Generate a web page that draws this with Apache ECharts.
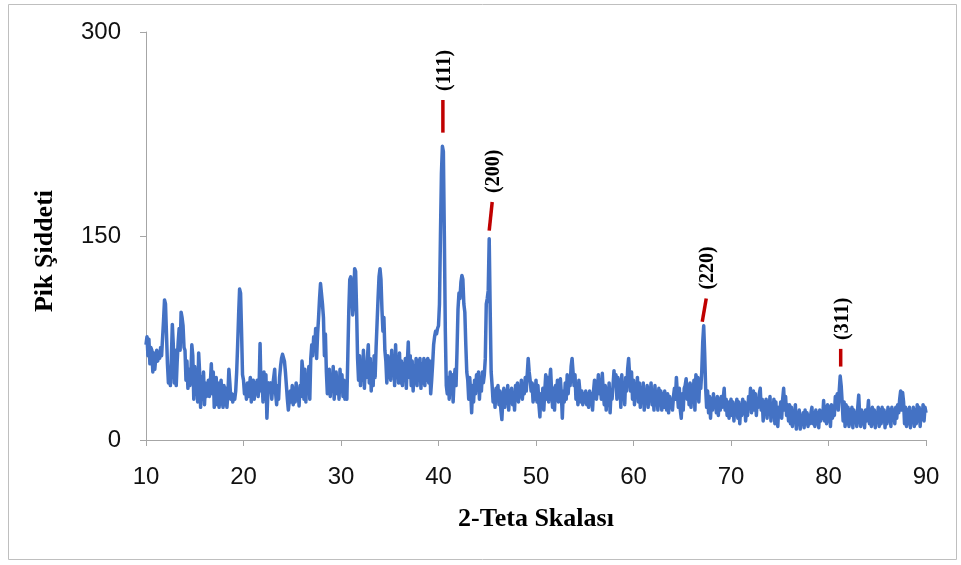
<!DOCTYPE html>
<html>
<head>
<meta charset="utf-8">
<title>XRD</title>
<script src="https://cdn.jsdelivr.net/npm/echarts@6/dist/echarts.min.js"></script>
<style>
  html, body { margin: 0; padding: 0; background: #fff; }
  #chart { width: 961px; height: 565px; }
</style>
</head>
<body>
<div id="chart"></div>
<script>
// 2-theta scan, one reading every 0.1 degree, grouped by decade
const scanStart = 10;
const scanStep = 0.1;

const intensity10s = [
  70, 76, 62, 74, 56, 68, 66, 50, 64, 52,
  60, 66, 58, 64, 60, 68, 62, 75, 88, 103,
  100, 78, 56, 42, 50, 40, 60, 85, 70, 42,
  66, 40, 58, 72, 82, 66, 94, 90, 84, 68,
  66, 44, 58, 38, 52, 40, 48, 70, 62, 30,
  54, 34, 46, 28, 64, 50, 24, 46, 30, 50,
  26, 42, 32, 36, 44, 32, 42, 56, 34, 50,
  24, 40, 46, 26, 42, 24, 38, 44, 30, 24,
  40, 26, 38, 24, 34, 52, 42, 30, 34, 28,
  33, 30, 36, 50, 70, 92, 111, 108, 80, 48
];
const intensity20s = [
  44, 34, 40, 30, 42, 32, 38, 46, 28, 40,
  44, 30, 42, 34, 44, 32, 40, 71, 36, 46,
  28, 50, 32, 48, 16, 34, 42, 36, 42, 30,
  40, 46, 52, 34, 26, 40, 30, 46, 54, 60,
  63, 62, 58, 50, 40, 30, 22, 21, 36, 28,
  40, 26, 38, 28, 42, 30, 36, 25, 40, 32,
  58, 50, 30, 52, 28, 48, 36, 54, 30, 60,
  70, 62, 76, 66, 82, 60, 78, 90, 104, 115,
  114, 100, 90, 62, 78, 50, 34, 46, 52, 32,
  48, 36, 54, 30, 44, 50, 34, 46, 30, 52
];
const intensity30s = [
  38, 48, 32, 44, 30, 36, 30, 62, 95, 118,
  120, 110, 92, 100, 126, 124, 96, 60, 44, 62,
  40, 58, 44, 66, 38, 56, 46, 60, 70, 42,
  60, 36, 56, 40, 62, 46, 68, 86, 104, 120,
  126, 118, 96, 80, 90, 66, 58, 42, 62, 46,
  60, 44, 66, 48, 62, 40, 70, 46, 58, 42,
  64, 42, 58, 40, 56, 44, 60, 38, 56, 72,
  46, 62, 40, 58, 36, 54, 42, 60, 40, 58,
  44, 60, 38, 56, 42, 60, 40, 58, 44, 60,
  42, 58, 34, 44, 56, 70, 76, 80, 78, 82
];
const intensity40s = [
  84, 100, 150, 196, 216, 212, 150, 80, 40, 34,
  46, 30, 50, 36, 48, 28, 44, 52, 40, 66,
  96, 108, 104, 116, 121, 118, 100, 94, 70, 50,
  44, 30, 46, 36, 20, 40, 28, 44, 34, 48,
  38, 50, 30, 46, 36, 50, 42, 48, 60, 100,
  104, 110, 148, 96, 50, 40, 28, 36, 24, 38,
  30, 40, 26, 36, 22, 15, 30, 38, 24, 36,
  28, 40, 22, 36, 28, 38, 26, 34, 22, 40,
  30, 42, 28, 38, 32, 44, 30, 40, 34, 46,
  36, 48, 60, 50, 44, 36, 42, 28, 40, 30
];
const intensity50s = [
  44, 28, 40, 26, 17, 34, 24, 38, 22, 36,
  48, 30, 46, 28, 44, 52, 36, 24, 38, 22,
  40, 30, 44, 28, 40, 45, 34, 16, 36, 28,
  42, 30, 48, 34, 46, 40, 54, 60, 50, 40,
  48, 30, 40, 26, 44, 36, 28, 36, 26, 34,
  28, 36, 26, 34, 24, 36, 28, 34, 22, 36,
  44, 42, 30, 38, 48, 34, 42, 30, 49, 36,
  26, 40, 22, 38, 26, 42, 20, 36, 30, 40,
  51, 40, 48, 30, 46, 32, 44, 24, 48, 30,
  42, 26, 46, 36, 52, 60, 48, 36, 50, 30
];
const intensity60s = [
  44, 26, 40, 34, 46, 28, 42, 24, 38, 30,
  42, 22, 36, 28, 40, 24, 38, 30, 42, 26,
  36, 22, 40, 28, 34, 22, 38, 26, 36, 22,
  34, 24, 36, 28, 22, 34, 20, 32, 24, 30,
  22, 32, 38, 30, 46, 34, 24, 38, 22, 16,
  34, 22, 38, 40, 45, 30, 40, 26, 42, 24,
  40, 30, 44, 22, 48, 36, 46, 28, 44, 38,
  50, 72, 84, 64, 38, 24, 36, 20, 32, 16,
  30, 22, 34, 24, 30, 20, 32, 18, 30, 22,
  32, 24, 30, 38, 22, 30, 18, 28, 16, 26
];
const intensity70s = [
  30, 18, 28, 14, 26, 20, 30, 16, 28, 12,
  26, 18, 30, 20, 28, 14, 26, 18, 32, 24,
  38, 20, 30, 36, 22, 34, 18, 30, 24, 34,
  38, 22, 30, 14, 28, 20, 30, 16, 28, 22,
  32, 14, 26, 18, 30, 12, 28, 16, 10, 24,
  18, 28, 16, 30, 38, 22, 32, 18, 26, 14,
  26, 12, 24, 10, 20, 14, 26, 8, 20, 12,
  22, 8, 18, 12, 20, 9, 22, 12, 20, 10,
  18, 12, 20, 24, 12, 20, 10, 22, 12, 20,
  9, 22, 14, 20, 16, 29, 14, 24, 12, 26
];
const intensity80s = [
  14, 24, 10, 26, 16, 22, 18, 32, 24, 34,
  22, 36, 47, 40, 28, 14, 28, 10, 26, 12,
  24, 10, 22, 12, 24, 9, 22, 14, 20, 10,
  24, 33, 18, 10, 22, 12, 20, 9, 22, 14,
  20, 29, 12, 20, 10, 24, 12, 22, 9, 20,
  14, 24, 10, 22, 12, 24, 14, 22, 9, 20,
  12, 24, 14, 22, 10, 24, 16, 22, 12, 24,
  16, 26, 20, 30, 36, 22, 35, 28, 12, 24,
  10, 22, 12, 24, 9, 20, 14, 24, 10, 22,
  12, 26, 14, 24, 10, 22, 16, 26, 14, 24,
  20
];

// Miller-index markers: label, angle of the dash foot, dash foot and head in counts
const peakLabels = ['(111)', '(200)', '(220)', '(311)'];
const peakAngles = [40.45, 45.2, 67.05, 81.25];
const dashFoot = [226, 154, 87, 54];
const dashHead = [250, 175, 104, 67];

const xTicks = { min: 10, max: 90, interval: 10 };
const yTicks = { min: 0, max: 300, interval: 150 };

const intensity = [].concat(intensity10s, intensity20s, intensity30s, intensity40s,
  intensity50s, intensity60s, intensity70s, intensity80s);
const scan = intensity.map((v, i) => [+(scanStart + i * scanStep).toFixed(1), v]);
const markers = peakLabels.map((t, i) => [peakAngles[i], dashFoot[i], dashHead[i], i]);

// head lean of each dash, px
const dashLean = [0, 3, 4, 0];

const chart = echarts.init(document.getElementById('chart'), null, { renderer: 'canvas' });
const tickFont = '"Liberation Sans Narrow", "Liberation Sans", sans-serif';
const titleFont = '"Liberation Serif", "DejaVu Serif", serif';

chart.setOption({
  animation: false,
  backgroundColor: '#ffffff',
  grid: { left: 146, right: 35, top: 32, bottom: 125 },
  xAxis: {
    type: 'value',
    min: xTicks.min, max: xTicks.max, interval: xTicks.interval,
    name: '2-Teta Skalası',
    nameLocation: 'middle',
    nameGap: 66,
    nameTextStyle: { fontFamily: titleFont, fontWeight: 'bold', fontSize: 26, color: '#000' },
    axisLine: { onZero: false, lineStyle: { color: '#a6a6a6', width: 1 } },
    axisTick: { show: true, length: 6, lineStyle: { color: '#a6a6a6' } },
    axisLabel: { fontFamily: tickFont, fontSize: 24, color: '#111', margin: 25 },
    splitLine: { show: false }
  },
  yAxis: {
    type: 'value',
    min: yTicks.min, max: yTicks.max, interval: yTicks.interval,
    name: 'Pik Şiddeti',
    nameLocation: 'middle',
    nameGap: 88,
    nameRotate: 90,
    nameTextStyle: {
      fontFamily: titleFont, fontWeight: 'bold', fontSize: 26, color: '#000',
      padding: [0, 30, 0, 0]
    },
    axisLine: { show: true, lineStyle: { color: '#a6a6a6', width: 1 } },
    axisTick: { show: true, length: 6, lineStyle: { color: '#a6a6a6' } },
    axisLabel: { fontFamily: tickFont, fontSize: 24, color: '#111', margin: 25 },
    splitLine: { show: false }
  },
  series: [
    {
      type: 'line',
      data: scan,
      showSymbol: false,
      symbol: 'none',
      sampling: false,
      lineStyle: { color: '#4472C4', width: 3.5, join: 'round' },
      z: 2
    },
    {
      type: 'custom',
      data: markers,
      encode: { x: 0, y: 1 },
      clip: false,
      z: 3,
      renderItem: function (params, api) {
        const foot = api.coord([api.value(0), api.value(1)]);
        const head = api.coord([api.value(0), api.value(2)]);
        const k = api.value(3);
        const hx = head[0] + dashLean[k];
        return {
          type: 'group',
          children: [
            {
              type: 'line',
              shape: { x1: foot[0], y1: foot[1], x2: hx, y2: head[1] },
              style: { stroke: '#C00000', lineWidth: 3.5 }
            },
            {
              type: 'text',
              x: hx + 2,
              y: head[1] - 9,
              rotation: Math.PI / 2,
              style: {
                text: peakLabels[k],
                font: 'bold 20px ' + titleFont,
                fill: '#000',
                align: 'left',
                verticalAlign: 'middle'
              }
            }
          ]
        };
      }
    }
  ],
  graphic: [
    {
      type: 'rect',
      shape: { x: 8.5, y: 4.5, width: 948, height: 555 },
      style: { fill: 'none', stroke: '#bfbfbf', lineWidth: 1 },
      silent: true
    }
  ]
});
</script>
</body>
</html>
